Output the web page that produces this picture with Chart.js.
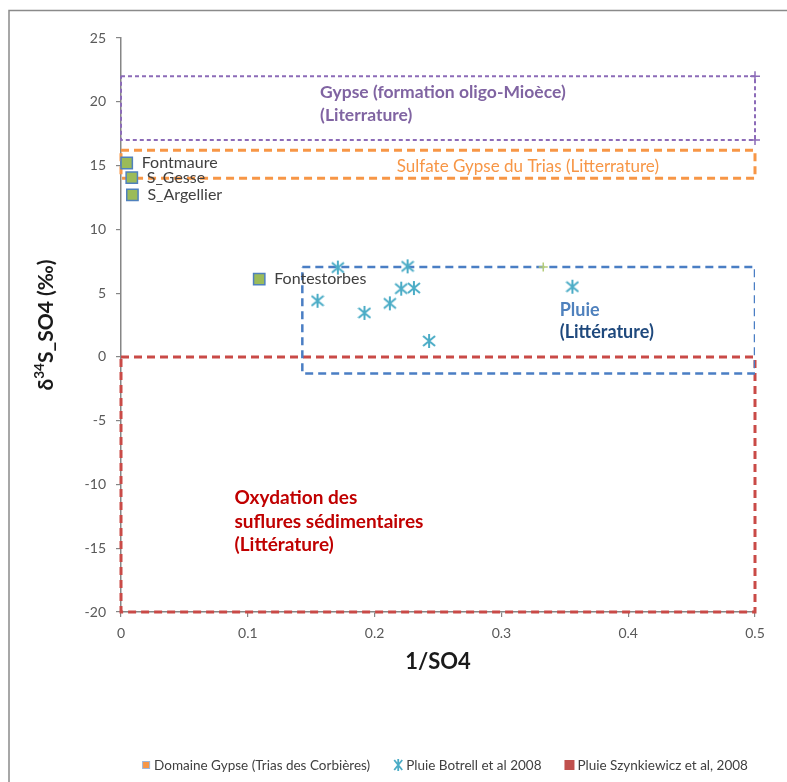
<!DOCTYPE html>
<html>
<head>
<meta charset="utf-8">
<script src="https://cdn.jsdelivr.net/npm/chart.js@4/dist/chart.umd.min.js"></script>
<style>
  html, body { margin: 0; padding: 0; background: #fff; }
  #wrap { width: 787px; height: 782px; position: relative; }
</style>
</head>
<body>
<div id="wrap"><canvas id="c" width="787" height="782"></canvas></div>
<script>
// Domaine Gypse (Trias des Corbières) springs
const gypseNames = ['Fontmaure', 'S_Gesse', 'S_Argellier', 'Fontestorbes'];
const gypseX = [0.0045, 0.0085, 0.009, 0.109];
const gypseY = [15.2, 14.05, 12.7, 6.1];

// Pluie Botrell et al 2008
const botrellX = [0.171, 0.226, 0.155, 0.192, 0.212, 0.221, 0.231, 0.243, 0.356];
const botrellY = [7.0, 7.1, 4.4, 3.45, 4.2, 5.35, 5.4, 1.25, 5.5];

// Pluie Szynkiewicz et al, 2008
const szynX = [0.333];
const szynY = [7.05];

// Literature ranges: [x min, x max, y min, y max]
const oligoRange = [0, 0.5, 17, 22];
const triasRange = [0, 0.5, 14, 16.2];
const pluieRange = [0.143, 0.5, -1.3, 7.05];
const sulfideRange = [0, 0.5, -20, 0];

// Axis ticks
const xTicks = [0, 0.1, 0.2, 0.3, 0.4, 0.5];
const yTicks = [25, 20, 15, 10, 5, 0, -5, -10, -15, -20];

const legendOrder = ['Domaine Gypse (Trias des Corbières)', 'Pluie Botrell et al 2008', 'Pluie Szynkiewicz et al, 2008'];

const FONT = 'Lato, "Open Sans", sans-serif';

function points(xs, ys) { return xs.map((x, i) => ({ x: x, y: ys[i] })); }
function box(r) {
  return [
    { x: r[0], y: r[3] }, { x: r[1], y: r[3] },
    { x: r[1], y: r[2] }, { x: r[0], y: r[2] }, { x: r[0], y: r[3] }
  ];
}
function boxLine(label, r, color, width, dash, extra) {
  return Object.assign({
    label: label, data: box(r), showLine: true, fill: false,
    borderColor: color, borderWidth: width, borderDash: dash,
    pointRadius: 0, pointHoverRadius: 0, inLegend: false, order: 5
  }, extra || {});
}

// six-armed asterisk marker (X with a vertical stroke)
function asterisk(color, w, h, lw) {
  const c = document.createElement('canvas');
  c.width = w + 2; c.height = h + 2;
  const g = c.getContext('2d');
  g.strokeStyle = color;
  g.lineWidth = lw;
  const cx = c.width / 2, cy = c.height / 2;
  g.beginPath();
  g.moveTo(cx - w / 2, cy - h / 2 + 2); g.lineTo(cx + w / 2, cy + h / 2 - 2);
  g.moveTo(cx + w / 2, cy - h / 2 + 2); g.lineTo(cx - w / 2, cy + h / 2 - 2);
  g.moveTo(cx, cy - h / 2); g.lineTo(cx, cy + h / 2);
  g.stroke();
  return c;
}
const starMark = asterisk('#4BACC6', 12, 14, 2);

// Text placed in data coordinates
const notes = [
  { x: 0.157, y: 20.7, text: 'Gypse (formation oligo-Mioèce)', color: '#8064A2', bold: true, size: 17.5 },
  { x: 0.157, y: 18.95, text: '(Literrature)', color: '#8064A2', bold: true, size: 17.5 },
  { x: 0.2175, y: 14.9, text: 'Sulfate Gypse du Trias (Litterrature)', color: '#F79646', bold: false, size: 17 },
  { x: 0.346, y: 3.65, text: 'Pluie', color: '#4F81BD', bold: true, size: 18 },
  { x: 0.346, y: 1.95, text: '(Littérature)', color: '#1F497D', bold: true, size: 18 },
  { x: 0.0895, y: -11.05, text: 'Oxydation des', color: '#C00000', bold: true, size: 19 },
  { x: 0.0895, y: -12.9, text: 'suflures sédimentaires', color: '#C00000', bold: true, size: 19 },
  { x: 0.0895, y: -14.75, text: '(Littérature)', color: '#C00000', bold: true, size: 19 }
];

const decor = {
  id: 'decor',
  beforeDraw(chart) {
    const ctx = chart.ctx;
    ctx.save();
    ctx.strokeStyle = '#8a8a8a';
    ctx.lineWidth = 1.5;
    ctx.strokeRect(9, 10.5, 900, 900);
    ctx.restore();
  },
  afterDatasetsDraw(chart) {
    const ctx = chart.ctx;
    const xs = chart.scales.x, ys = chart.scales.y;
    ctx.save();
    ctx.textBaseline = 'middle';
    ctx.textAlign = 'left';
    // sample names
    ctx.fillStyle = '#404040';
    ctx.font = '16px ' + FONT;
    gypseNames.forEach((n, i) => {
      ctx.fillText(n, xs.getPixelForValue(gypseX[i]) + 15, ys.getPixelForValue(gypseY[i]));
    });
    // range labels
    notes.forEach(t => {
      ctx.fillStyle = t.color;
      ctx.font = (t.bold ? 'bold ' : '') + t.size + 'px ' + FONT;
      ctx.fillText(t.text, xs.getPixelForValue(t.x), ys.getPixelForValue(t.y));
    });
    ctx.restore();
  },
  afterDraw(chart) {
    const ctx = chart.ctx;
    const area = chart.chartArea;
    ctx.save();
    // axis titles
    ctx.fillStyle = '#1a1a1a';
    ctx.textBaseline = 'middle';
    ctx.font = 'bold 22px ' + FONT;
    ctx.textAlign = 'center';
    ctx.fillText('1/SO4', (area.left + area.right) / 2, 662);

    ctx.translate(46, 325);
    ctx.rotate(-Math.PI / 2);
    const big = 'bold 21px ' + FONT, small = 'bold 13.5px ' + FONT;
    const parts = [['δ', big, 0], ['34', small, -6], ['S_SO4 (‰)', big, 0]];
    let total = 0;
    parts.forEach(p => { ctx.font = p[1]; total += ctx.measureText(p[0]).width; });
    let px = -total / 2;
    ctx.textAlign = 'left';
    parts.forEach(p => {
      ctx.font = p[1];
      ctx.fillText(p[0], px, p[2]);
      px += ctx.measureText(p[0]).width;
    });
    ctx.restore();

    // legend
    ctx.save();
    ctx.font = '13.5px ' + FONT;
    ctx.textBaseline = 'middle';
    ctx.textAlign = 'left';
    const items = chart.data.datasets.filter(d => d.inLegend)
      .sort((a, b) => legendOrder.indexOf(a.label) - legendOrder.indexOf(b.label));
    const mark = 12, gap = 24;
    let w = 0;
    items.forEach((d, i) => { w += mark + ctx.measureText(d.label).width + (i ? gap : 0); });
    let x = 445 - w / 2;
    const y = 765;
    items.forEach(d => {
      const cx = x + 4;
      if (d.legendMark === 'smallsq') {
        ctx.fillStyle = '#F79646';
        ctx.fillRect(cx - 3.5, y - 3.5, 7, 7);
        ctx.strokeStyle = '#9DB7DC';
        ctx.lineWidth = 1;
        ctx.strokeRect(cx - 3.5, y - 3.5, 7, 7);
      } else if (d.legendMark === 'star') {
        ctx.strokeStyle = '#4BACC6';
        ctx.lineWidth = 1.8;
        ctx.beginPath();
        ctx.moveTo(cx - 4, y - 5); ctx.lineTo(cx + 4, y + 5);
        ctx.moveTo(cx + 4, y - 5); ctx.lineTo(cx - 4, y + 5);
        ctx.moveTo(cx, y - 6); ctx.lineTo(cx, y + 6);
        ctx.stroke();
      } else {
        ctx.fillStyle = '#C0504D';
        ctx.fillRect(cx - 5, y - 5, 10, 10);
      }
      ctx.fillStyle = '#404040';
      ctx.fillText(d.label, x + mark, y + 0.5);
      x += mark + ctx.measureText(d.label).width + gap;
    });
    ctx.restore();
  }
};

const datasets = [
  boxLine('Gypse (formation oligo-Mioèce)', oligoRange, '#8C6BB8', 2, [4, 3], {
    pointStyle: 'cross', pointRadius: [0, 5, 5, 0, 0], pointBorderColor: '#8C6BB8', pointBorderWidth: 1.5, clip: false
  }),
  boxLine('Sulfate Gypse du Trias', triasRange, '#F79646', 3, [8, 5], { clip: false }),
  boxLine('Pluie (Littérature)', pluieRange, '#4A7EC4', 2.5, [8, 5]),
  boxLine('Oxydation des suflures sédimentaires', sulfideRange, '#C94A47', 3, [8, 5], { clip: false }),
  {
    label: 'Pluie Szynkiewicz et al, 2008', data: points(szynX, szynY),
    pointStyle: 'cross', pointRadius: 4.5, pointBorderColor: '#B5CC7A', pointBorderWidth: 1.5,
    backgroundColor: '#C0504D', showLine: false, inLegend: true, legendMark: 'sq', order: 2
  },
  {
    label: 'Pluie Botrell et al 2008', data: points(botrellX, botrellY),
    pointStyle: starMark, pointRadius: 7, showLine: false,
    inLegend: true, legendMark: 'star', order: 1
  },
  {
    label: 'Domaine Gypse (Trias des Corbières)', data: points(gypseX, gypseY),
    pointStyle: 'rect', pointRadius: 8, pointBackgroundColor: '#9BBB59', pointBorderColor: '#4F81BD',
    pointBorderWidth: 1.5, showLine: false, inLegend: true, legendMark: 'smallsq', order: 0, clip: false
  }
];

const axisColor = '#868686';
new Chart(document.getElementById('c'), {
  type: 'scatter',
  data: { datasets: datasets },
  options: {
    responsive: false,
    animation: false,
    events: [],
    layout: { padding: { left: 0, top: 38, right: 32, bottom: 100 } },
    plugins: { legend: { display: false }, tooltip: { enabled: false } },
    scales: {
      x: {
        type: 'linear', min: 0, max: 0.5,
        afterBuildTicks: s => { s.ticks = xTicks.map(v => ({ value: v })); },
        afterFit: s => { s.height = 70; },
        ticks: { color: '#595959', font: { family: FONT, size: 14 }, padding: 8, callback: v => String(v) },
        grid: { drawOnChartArea: false, drawTicks: true, tickLength: 5, color: axisColor, lineWidth: 1.2 },
        border: { color: axisColor, width: 1.5 }
      },
      y: {
        type: 'linear', min: -20, max: 25,
        afterBuildTicks: s => { s.ticks = yTicks.map(v => ({ value: v })); },
        afterFit: s => { s.width = 121; },
        ticks: { color: '#595959', font: { family: FONT, size: 14 }, padding: 10 },
        grid: { drawOnChartArea: false, drawTicks: true, tickLength: 5, color: axisColor, lineWidth: 1.2 },
        border: { color: axisColor, width: 1.5 }
      }
    }
  },
  plugins: [decor]
});
</script>
</body>
</html>
